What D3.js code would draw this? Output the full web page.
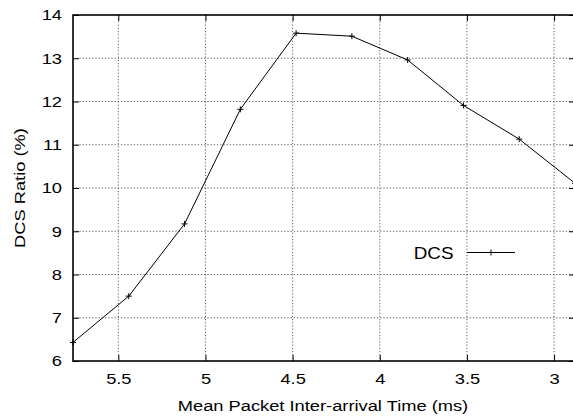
<!DOCTYPE html>
<html>
<head>
<meta charset="utf-8">
<script src="https://cdn.jsdelivr.net/npm/d3@7/dist/d3.min.js"></script>
<style>
html,body{margin:0;padding:0;background:#fff;}
svg{display:block;font-family:"Liberation Sans",Arial,Helvetica,sans-serif;}
</style>
</head>
<body>
<svg id="chart" width="573" height="418"></svg>
<script>
const xValues = [5.76, 5.44, 5.12, 4.80, 4.48, 4.16, 3.84, 3.52, 3.20, 2.88];
const dcsValues = [6.43, 7.50, 9.17, 11.82, 13.58, 13.51, 12.96, 11.91, 11.13, 10.11];
const xTicks = [5.5, 5, 4.5, 4, 3.5, 3];
const yTicks = [6, 7, 8, 9, 10, 11, 12, 13, 14];
const seriesName = "DCS";
const xLabel = "Mean Packet Inter-arrival Time (ms)";
const yLabel = "DCS Ratio (%)";

const SX = 1.18; // horizontal stretch of the glyphs, as in the reference
const svg = d3.select("#chart");
const L = 73, R = 575, T = 15, B = 361;
const x = d3.scaleLinear().domain([5.76, 2.88]).range([L, R]);
const y = d3.scaleLinear().domain([6, 14]).range([B, T]);

const g = svg.append("g");
// grid
g.selectAll(".gx").data(xTicks).enter().append("line")
  .attr("x1", d => x(d)).attr("x2", d => x(d)).attr("y1", T).attr("y2", B)
  .attr("stroke", "#333").attr("stroke-width", 0.8).attr("stroke-dasharray", "1.2,2");
g.selectAll(".gy").data(yTicks.filter(d => d > 6 && d < 14)).enter().append("line")
  .attr("x1", L).attr("x2", R).attr("y1", d => y(d)).attr("y2", d => y(d))
  .attr("stroke", "#333").attr("stroke-width", 0.8).attr("stroke-dasharray", "1.2,2");

// axes
const fs = "15.5px";
const xAxis = d3.axisBottom(x).tickValues(xTicks).tickSize(-6).tickPadding(12).tickFormat(d3.format("~g"));
const xa = svg.append("g").attr("transform", `translate(0,${B})`).call(xAxis);
const xAxisTop = d3.axisTop(x).tickValues(xTicks).tickSize(-6).tickFormat("");
const xt = svg.append("g").attr("transform", `translate(0,${T})`).call(xAxisTop);
const yAxis = d3.axisLeft(y).tickValues(yTicks).tickSize(-6).tickPadding(11).tickFormat(d3.format("~g"));
const ya = svg.append("g").attr("transform", `translate(${L},0)`).call(yAxis);
const yAxisRight = d3.axisRight(y).tickValues(yTicks).tickSize(-6).tickFormat("");
const yr = svg.append("g").attr("transform", `translate(${R},0)`).call(yAxisRight);
[xa, xt, ya, yr].forEach(a => {
  a.select(".domain").remove();
  a.selectAll(".tick line").attr("stroke", "#000").attr("stroke-width", 1);
  a.selectAll(".tick text").attr("fill", "#000").style("font-size", fs)
    .style("font-family", "'Liberation Sans',Arial,sans-serif");
});
xa.selectAll(".tick text").attr("transform", `scale(${SX},1)`);
ya.selectAll(".tick text").attr("x", -11 / SX).attr("transform", `scale(${SX},1)`);

// frame
svg.append("rect").attr("x", L).attr("y", T).attr("width", R - L).attr("height", B - T)
  .attr("fill", "none").attr("stroke", "#000").attr("stroke-width", 1.6);

// line
const data = xValues.map((v, i) => [v, dcsValues[i]]);
svg.append("path").datum(data)
  .attr("fill", "none").attr("stroke", "#000").attr("stroke-width", 1)
  .attr("d", d3.line().x(d => x(d[0])).y(d => y(d[1])));
const plus = (sel, px, py, s) => {
  sel.append("line").attr("x1", px - s).attr("x2", px + s).attr("y1", py).attr("y2", py).attr("stroke", "#000").attr("stroke-width", 1);
  sel.append("line").attr("x1", px).attr("x2", px).attr("y1", py - s).attr("y2", py + s).attr("stroke", "#000").attr("stroke-width", 1);
};
const mk = svg.append("g");
data.forEach(d => plus(mk, x(d[0]), y(d[1]), 3));

// legend
const lg = svg.append("g");
lg.append("text").attr("transform", `translate(453.5,259) scale(${SX},1)`).attr("text-anchor", "end")
  .style("font-size", "16px").attr("fill", "#000").text(seriesName);
lg.append("line").attr("x1", 467).attr("x2", 515).attr("y1", 252.5).attr("y2", 252.5)
  .attr("stroke", "#000").attr("stroke-width", 1);
plus(lg, 491, 252.5, 3);

// labels
svg.append("text").attr("transform", `translate(323,411) scale(${SX},1)`).attr("text-anchor", "middle")
  .style("font-size", "15.5px").attr("fill", "#000").text(xLabel);
svg.append("text").attr("transform", `translate(25,${(T + B) / 2}) rotate(-90) scale(${SX},1)`)
  .attr("text-anchor", "middle").style("font-size", "15.5px").attr("fill", "#000").text(yLabel);
</script>
</body>
</html>
